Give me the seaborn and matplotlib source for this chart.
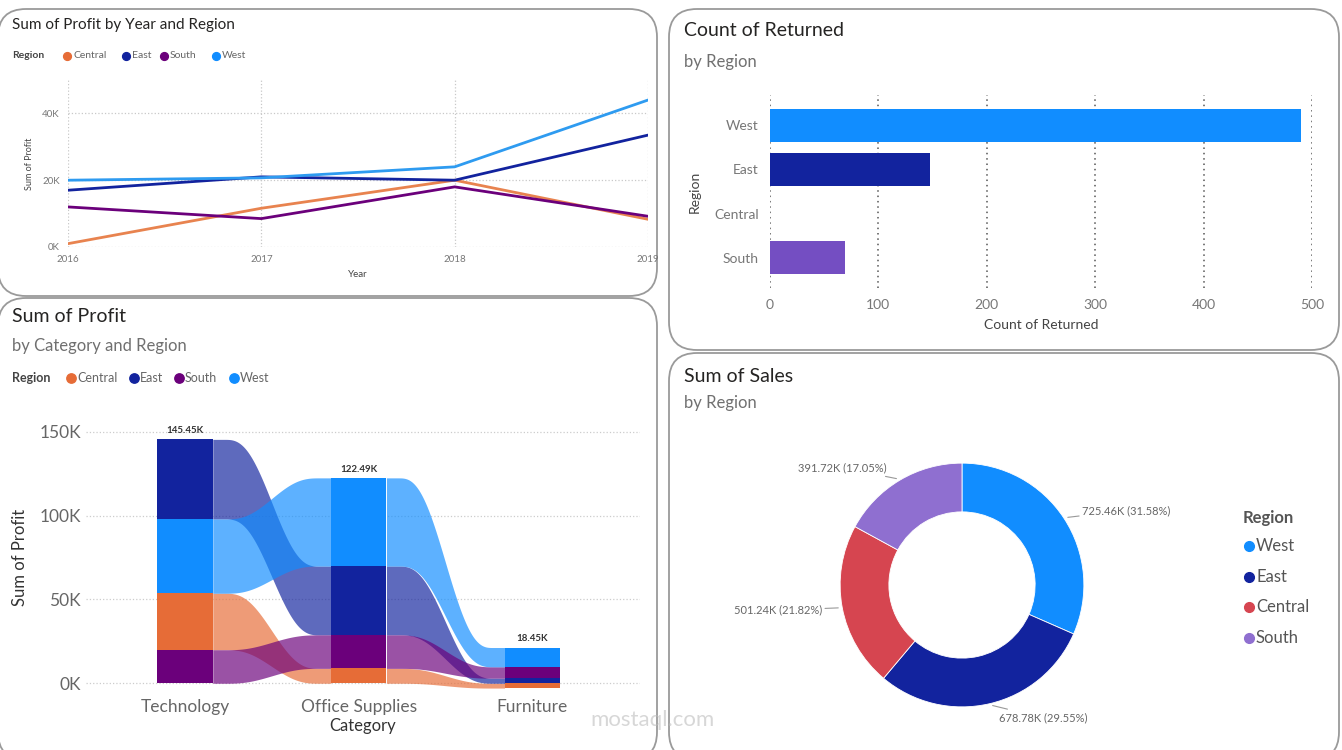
import numpy as np
import pandas as pd
import matplotlib
matplotlib.use("Agg")
import matplotlib.pyplot as plt
import seaborn as sns
from matplotlib.patches import FancyBboxPatch

# ------------------- Data -------------------
years = [2016, 2017, 2018, 2019]
profit_central = [1000, 11600, 20000, 8300]
profit_east = [17000, 21000, 20000, 33500]
profit_south = [12000, 8500, 18000, 9200]
profit_west = [20000, 20700, 24000, 44000]

categories = ["Technology", "Office Supplies", "Furniture"]
cat_central = [33700, 8880, -2870]
cat_east = [47460, 41010, 3050]
cat_south = [19990, 19990, 6770]
cat_west = [44300, 52610, 11500]

return_regions = ["West", "East", "Central", "South"]
return_counts = [490, 148, 0, 69]

sales_regions = ["West", "East", "Central", "South"]
sales_values = [725460, 678780, 501240, 391720]

regions = ["Central", "East", "South", "West"]
pal = {"Central": "#E66C37", "East": "#12239E", "South": "#6B007B", "West": "#118DFF"}
bar_pal = {"West": "#118DFF", "East": "#12239E", "Central": "#E66C37", "South": "#744EC2"}
donut_pal = ["#118DFF", "#12239E", "#D64550", "#8F6FD0"]

sns.set_theme(style="white")
plt.rcParams["font.family"] = ["Lato", "DejaVu Sans"]

W, H = 1342, 750
fig = plt.figure(figsize=(W / 100, H / 100), dpi=100)


def px_axes(left, top, right, bottom):
    return fig.add_axes([left / W, 1 - bottom / H, (right - left) / W, (bottom - top) / H])


# background layer for panels and titles (pixel coordinates)
bg = fig.add_axes([0, 0, 1, 1])
bg.set_xlim(0, W)
bg.set_ylim(H, 0)
bg.axis("off")

for (x0, y0, x1, y1) in [(-2, 9, 657, 296), (669, 9, 1339, 350), (-2, 298, 657, 760), (669, 353, 1339, 760)]:
    bg.add_patch(FancyBboxPatch((x0, y0), x1 - x0, y1 - y0, boxstyle="round,pad=0,rounding_size=28",
                                fc="white", ec="#9a9a9a", lw=1.3))

title_c = "#252423"
sub_c = "#707070"


def legend_row(x, y, size, items):
    bg.text(x, y, "Region", fontsize=size, fontweight="bold", color="#444444", va="center")
    for mx, name in items:
        bg.plot(mx, y, "o", color=pal[name], ms=size * 0.75)
        bg.text(mx + 6, y, name, fontsize=size, color="#666666", va="center")


# ------------------- 1. Profit by year and region -------------------
bg.text(12, 25, "Sum of Profit by Year and Region", fontsize=11, color=title_c, va="center")
legend_row(12, 56, 7.5, [(67, "Central"), (126, "East"), (164, "South"), (216, "West")])

df_line = pd.DataFrame({
    "Year": years * 4,
    "Profit": profit_central + profit_east + profit_south + profit_west,
    "Region": ["Central"] * 4 + ["East"] * 4 + ["South"] * 4 + ["West"] * 4,
})
ax1 = px_axes(68, 80, 648, 247)
line_pal = dict(pal)
line_pal["West"] = "#2E9BF0"
line_pal["Central"] = "#E8834F"
sns.lineplot(data=df_line, x="Year", y="Profit", hue="Region", palette=line_pal,
             linewidth=2, legend=False, ax=ax1)
ax1.set_xlim(2016, 2019)
ax1.set_ylim(0, 50000)
ax1.set_xticks(years)
ax1.set_yticks([0, 20000, 40000])
ax1.set_yticklabels(["0K", "20K", "40K"])
ax1.tick_params(labelsize=7, colors="#777777", length=0, pad=6)
ax1.grid(True, linestyle=":", color="#c8c8c8", lw=0.9)
for s in ax1.spines.values():
    s.set_visible(False)
ax1.set_xlabel("Year", fontsize=7, color="#444444", labelpad=4)
ax1.set_ylabel("Sum of Profit", fontsize=6.5, color="#444444", labelpad=6)

# ------------------- 2. Count of returned by region -------------------
bg.text(684, 30, "Count of Returned", fontsize=14, color=title_c, va="center")
bg.text(684, 62, "by Region", fontsize=12, color=sub_c, va="center")

df_ret = pd.DataFrame({"Region": return_regions, "Count": return_counts})
ax2 = px_axes(770, 95, 1312, 288)
sns.barplot(data=df_ret, x="Count", y="Region", hue="Region", palette=bar_pal, saturation=1,
            orient="h", width=0.75, legend=False, linewidth=0, ax=ax2)
ax2.set_xlim(0, 500)
ax2.set_ylim(3.68, -0.68)
ax2.set_xticks([0, 100, 200, 300, 400, 500])
ax2.xaxis.grid(True, linestyle=(0, (1, 2.5)), color="#555555", lw=1.1)
ax2.set_axisbelow(True)
for s in ax2.spines.values():
    s.set_visible(False)
ax2.tick_params(labelsize=10, colors="#777777", length=0, pad=8)
ax2.set_xlabel("Count of Returned", fontsize=10, color="#444444", labelpad=6)
ax2.set_ylabel("Region", fontsize=10, color="#444444", labelpad=10)

# ------------------- 3. Ribbon chart: profit by category and region -------------------
bg.text(12, 317, "Sum of Profit", fontsize=14, color=title_c, va="center")
bg.text(12, 346, "by Category and Region", fontsize=12, color=sub_c, va="center")
legend_row(12, 378, 9, [(71, "Central"), (134, "East"), (179, "South"), (234, "West")])

ax3 = px_axes(86, 420, 640, 695)
vals = {"Central": cat_central, "East": cat_east, "South": cat_south, "West": cat_west}
bw = 0.32
xpos = np.arange(len(categories))
seg = {}  # (region, cat index) -> (bottom, top)
for i in range(len(categories)):
    pos = sorted([r for r in regions if vals[r][i] >= 0], key=lambda r: vals[r][i])
    base = 0
    for r in pos:
        seg[(r, i)] = (base, base + vals[r][i])
        base += vals[r][i]
    neg = 0
    for r in [r for r in regions if vals[r][i] < 0]:
        seg[(r, i)] = (neg + vals[r][i], neg)
        neg += vals[r][i]
    for r in regions:
        b, t = seg[(r, i)]
        ax3.bar(xpos[i], t - b, bottom=b, width=bw, color=pal[r], linewidth=0, zorder=3)
    total = sum(vals[r][i] for r in regions)
    ax3.text(xpos[i], base + 2500, f"{total / 1000:.2f}K", ha="center", va="bottom",
             fontsize=7, fontweight="bold", color="#333333")

t = np.linspace(0, 1, 120)
s = np.clip((t - 0.1) / 0.8, 0, 1)
ease = s ** 3 * (s * (6 * s - 15) + 10)
for i in range(len(categories) - 1):
    xa, xb = xpos[i] + bw / 2, xpos[i + 1] - bw / 2
    xs = xa + (xb - xa) * t
    for r in regions:
        b0, t0 = seg[(r, i)]
        b1, t1 = seg[(r, i + 1)]
        ax3.fill_between(xs, b0 + (b1 - b0) * ease, t0 + (t1 - t0) * ease,
                         color=pal[r], alpha=0.68, lw=0, zorder=2)

ax3.set_xlim(-0.57, 2.62)
ax3.set_ylim(-7000, 157000)
ax3.set_xticks(xpos)
ax3.set_xticklabels(categories)
ax3.set_yticks([0, 50000, 100000, 150000])
ax3.set_yticklabels(["0K", "50K", "100K", "150K"])
ax3.yaxis.grid(True, linestyle=":", color="#cccccc", lw=0.9)
ax3.set_axisbelow(True)
for s_ in ax3.spines.values():
    s_.set_visible(False)
ax3.tick_params(axis="both", labelsize=12.5, colors="#666666", length=0)
ax3.tick_params(axis="x", pad=3)
ax3.set_xlabel("Category", fontsize=12, color="#333333", labelpad=2)
ax3.set_ylabel("Sum of Profit", fontsize=12, color="#333333", labelpad=8)

# ------------------- 4. Donut: sales by region -------------------
bg.text(684, 376, "Sum of Sales", fontsize=14, color=title_c, va="center")
bg.text(684, 403, "by Region", fontsize=12, color=sub_c, va="center")

ax4 = px_axes(767, 432.5, 1157, 737.5)
wedges, _ = ax4.pie(sales_values, colors=donut_pal, startangle=90, counterclock=False,
                    radius=1, wedgeprops=dict(width=0.4, edgecolor="white", linewidth=0.6))
total_sales = sum(sales_values)
for w, v in zip(wedges, sales_values):
    a = np.deg2rad((w.theta1 + w.theta2) / 2)
    cx, cy = np.cos(a), np.sin(a)
    side = 1 if cx >= 0 else -1
    ax4.annotate(f"{v / 1000:.2f}K ({v / total_sales * 100:.2f}%)",
                 xy=(1.01 * cx, 1.01 * cy), xytext=(1.12 * cx + 0.05 * side, 1.12 * cy),
                 ha="left" if side > 0 else "right", va="center", fontsize=8, color="#666666",
                 arrowprops=dict(arrowstyle="-", color="#999999", lw=0.8, shrinkA=0, shrinkB=2))
ax4.set_xlim(-1.6, 1.6)
ax4.set_ylim(-1.25, 1.25)
ax4.set_aspect("equal")
ax4.axis("off")

bg.text(1243, 518, "Region", fontsize=12, fontweight="bold", color="#555555", va="center")
for k, (name, col) in enumerate(zip(sales_regions, donut_pal)):
    yy = 546 + k * 30.7
    bg.plot(1249, yy, "o", color=col, ms=7)
    bg.text(1256, yy, name, fontsize=12, color="#555555", va="center")

# faint site watermark
fig.text(590 / W, 1 - 720 / H, "mostaql.com", fontsize=16, color="#bdbdbd", alpha=0.6,
         va="center", zorder=10)

fig.savefig("out.png", dpi=100)
